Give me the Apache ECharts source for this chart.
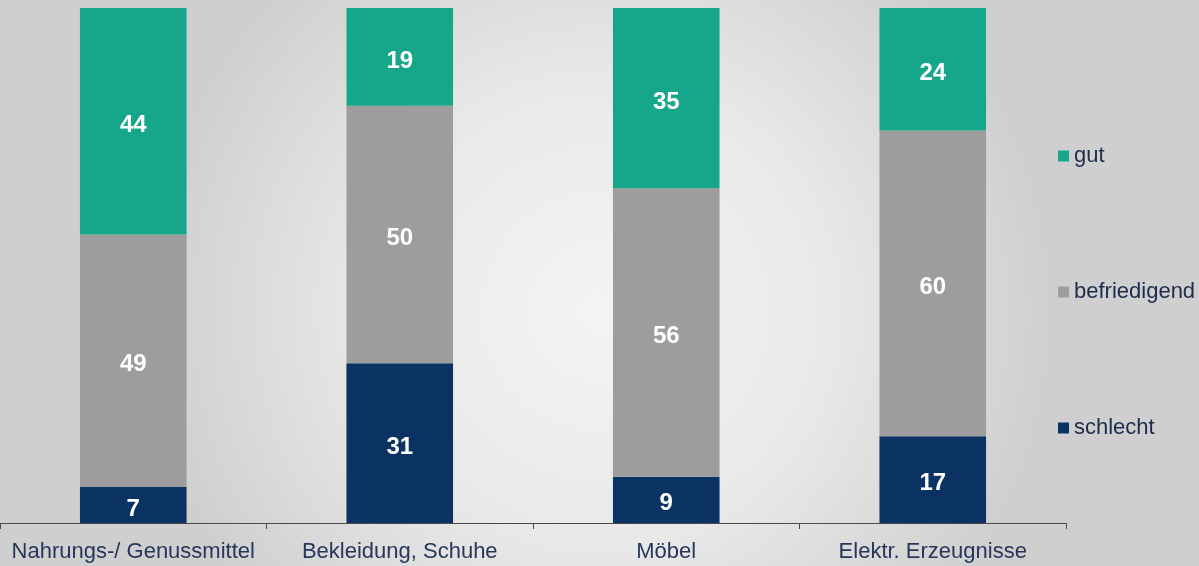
<!DOCTYPE html>
<html>
<head>
<meta charset="utf-8">
<script src="https://cdn.jsdelivr.net/npm/echarts@6/dist/echarts.min.js"></script>
<style>
    html, body { margin: 0; padding: 0; }
    #chart { width: 1199px; height: 566px; }
</style>
</head>
<body>
<div id="chart"></div>
<script>
// Kategorien und Werte (Prozent)
const categories = ["Nahrungs-/ Genussmittel", "Bekleidung, Schuhe", "Möbel", "Elektr. Erzeugnisse"];
const schlecht = [7, 31, 9, 17];
const befriedigend = [49, 50, 56, 60];
const gut = [44, 19, 35, 24];
const colors = ["#0a3364", "#9d9d9d", "#16a78b"];

// auf 100 % normieren (Balken sind alle gleich hoch)
const totals = categories.map((c, i) => schlecht[i] + befriedigend[i] + gut[i]);
const pct = (arr) => arr.map((v, i) => ({ value: (v / totals[i]) * 100, raw: v }));

const chart = echarts.init(document.getElementById("chart"));

const barLabel = {
    show: true,
    position: "inside",
    offset: [0, 4],
    color: "#ffffff",
    fontSize: 24,
    fontWeight: "bold",
    fontFamily: "Liberation Sans, Arial",
    formatter: (p) => p.data.raw,
};

const makeSeries = (name, arr, color) => ({
    name: name,
    type: "bar",
    stack: "total",
    barWidth: "40%",
    itemStyle: { color: color },
    label: barLabel,
    emphasis: { disabled: true },
    data: pct(arr),
});

const option = {
    animation: false,
    backgroundColor: new echarts.graphic.RadialGradient(0.5, 0.55, 0.8, [
        { offset: 0, color: "#f4f4f4" },
        { offset: 0.5, color: "#e9e9e9" },
        { offset: 1, color: "#cfcfcf" },
    ]),
    grid: {
        left: 0,
        right: 133,
        top: 8,
        bottom: 43,
    },
    legend: {
        orient: "vertical",
        left: 1053,
        top: 140,
        itemWidth: 11,
        itemHeight: 11,
        itemGap: 114,
        icon: "rect",
        textStyle: {
            color: "#1d2c4b",
            fontSize: 22,
            fontFamily: "Liberation Sans, Arial",
        },
        data: ["gut", "befriedigend", "schlecht"],
    },
    xAxis: {
        type: "category",
        data: categories,
        axisLine: { show: true, lineStyle: { color: "#4a4a4a", width: 1 } },
        axisTick: { show: true, interval: 0, length: 6, lineStyle: { color: "#4a4a4a" } },
        axisLabel: {
            interval: 0,
            color: "#26375a",
            fontSize: 22,
            fontFamily: "Liberation Sans, Arial",
            margin: 18,
        },
    },
    yAxis: {
        type: "value",
        min: 0,
        max: 100,
        show: false,
        splitLine: { show: false },
    },
    series: [
        makeSeries("schlecht", schlecht, colors[0]),
        makeSeries("befriedigend", befriedigend, colors[1]),
        makeSeries("gut", gut, colors[2]),
    ],
};

chart.setOption(option);
</script>
</body>
</html>
